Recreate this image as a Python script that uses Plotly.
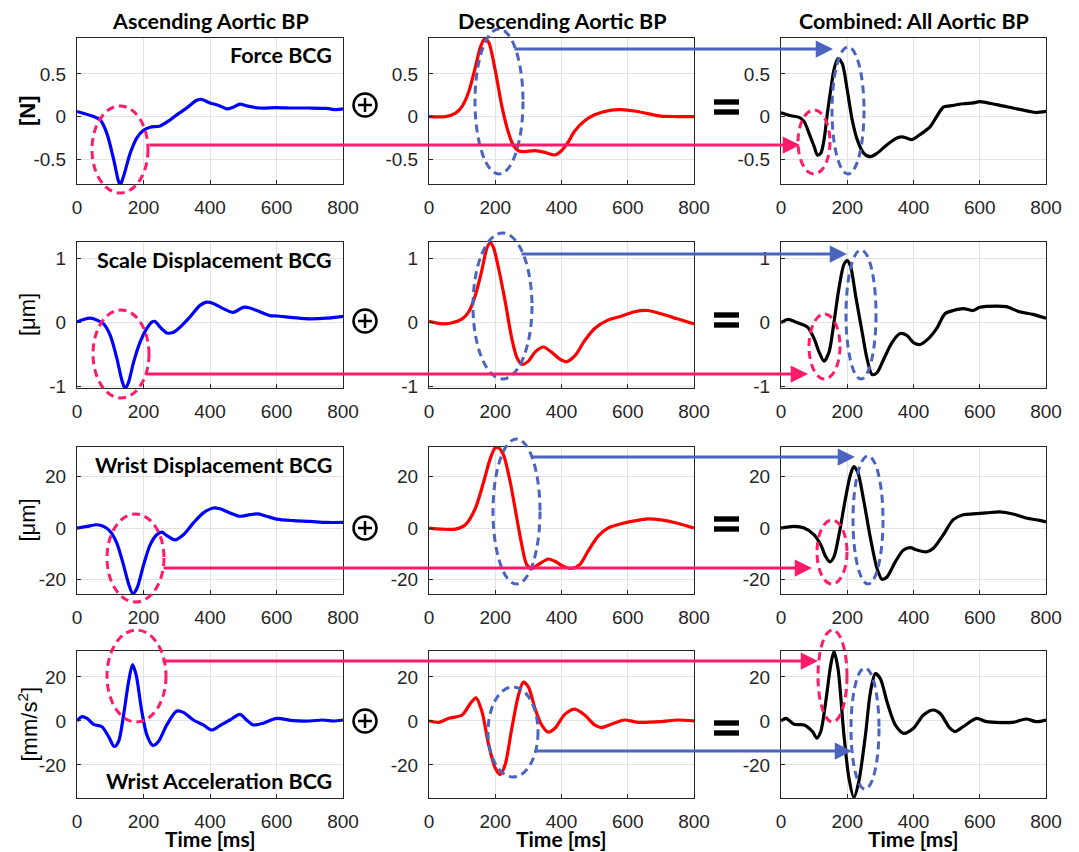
import plotly.graph_objects as go

# ---------------- data ----------------
asc_force_t = [0,50,70,90,110,125,130,140,160,180,200,220,250,280,300,330,360,375,400,430,450,470,490,510,550,600,650,700,750,780,800]
asc_force_v = [0.06,0.0,-0.04,-0.2,-0.5,-0.76,-0.8,-0.7,-0.43,-0.25,-0.16,-0.125,-0.11,-0.04,0.02,0.1,0.19,0.2,0.16,0.125,0.09,0.11,0.145,0.125,0.1,0.105,0.1,0.1,0.095,0.08,0.09]
desc_force_t = [0,50,80,100,120,140,155,168,180,200,220,240,255,270,290,320,350,380,400,420,440,470,500,550,580,620,660,700,750,800]
desc_force_v = [0,0,0.04,0.12,0.29,0.58,0.81,0.91,0.87,0.54,0.12,-0.19,-0.34,-0.4,-0.41,-0.4,-0.42,-0.45,-0.4,-0.3,-0.17,-0.05,0.02,0.075,0.08,0.065,0.035,0.005,0,0]
comb_force_t = [0,30,55,70,85,100,110,120,130,140,150,160,172,185,200,215,230,250,270,290,320,350,370,395,420,450,470,490,510,550,580,600,650,700,750,770,800]
comb_force_v = [0.045,0.01,-0.01,-0.06,-0.2,-0.35,-0.45,-0.43,-0.27,0.04,0.31,0.55,0.68,0.62,0.31,-0.04,-0.27,-0.43,-0.47,-0.43,-0.33,-0.25,-0.24,-0.27,-0.21,-0.12,0,0.11,0.125,0.15,0.16,0.175,0.14,0.1,0.06,0.047,0.06]

asc_scale_t = [0,20,40,60,80,100,120,135,145,155,170,190,210,225,235,250,270,290,310,340,370,390,410,440,470,500,520,550,580,600,650,700,750,800]
asc_scale_v = [0,0.04,0.06,0.03,-0.03,-0.21,-0.57,-0.91,-1.04,-0.94,-0.63,-0.31,-0.1,0,0.01,-0.08,-0.17,-0.16,-0.08,0.08,0.26,0.31,0.29,0.21,0.15,0.23,0.22,0.16,0.1,0.094,0.07,0.05,0.06,0.09]
desc_scale_t = [0,40,70,100,120,140,160,175,185,195,210,230,250,265,280,300,320,345,370,395,415,440,470,500,540,580,620,660,700,750,800]
desc_scale_v = [0.01,-0.03,-0.01,0.05,0.16,0.42,0.82,1.16,1.24,1.16,0.84,0.32,-0.26,-0.55,-0.66,-0.61,-0.47,-0.39,-0.47,-0.58,-0.62,-0.53,-0.29,-0.1,0.03,0.09,0.16,0.18,0.13,0.05,-0.03]
comb_scale_t = [0,20,40,60,80,100,115,130,145,160,175,190,200,210,225,245,260,275,290,310,335,360,380,400,420,445,470,495,520,550,580,600,650,680,720,760,800]
comb_scale_v = [-0.01,0.04,0.01,-0.03,-0.08,-0.26,-0.47,-0.61,-0.47,0,0.53,0.9,0.96,0.87,0.42,-0.16,-0.58,-0.82,-0.79,-0.58,-0.32,-0.18,-0.21,-0.32,-0.35,-0.26,-0.1,0.13,0.18,0.21,0.18,0.23,0.25,0.24,0.16,0.12,0.06]

asc_wdisp_t = [0,30,60,80,100,120,140,155,168,180,200,220,240,255,270,295,320,350,380,410,430,460,490,520,545,570,600,650,700,750,800]
asc_wdisp_v = [0,0.65,1.3,0.65,-1.3,-5.9,-14.4,-21.6,-25.5,-23.5,-14.4,-6.5,-2.6,-1.6,-2.9,-4.6,-2.6,2,5.9,7.8,7.5,5.9,4.6,5.2,5.5,4.6,3.5,2.9,2.6,2.2,2.2]
desc_wdisp_t = [0,40,80,110,140,165,185,200,210,225,245,265,280,295,310,330,360,380,405,430,455,480,510,540,580,620,660,700,750,800]
desc_wdisp_v = [0,-0.4,-0.4,1.3,7.7,18,27,31.2,31.2,28.4,18,3.9,-6.5,-14.2,-15.7,-14.2,-12,-12.9,-14.8,-15.7,-14.2,-9,-3.2,0,1.7,2.8,3.6,3.2,1.9,0]
comb_wdisp_t = [0,40,70,100,120,135,148,160,175,195,210,220,232,250,270,290,305,320,345,370,390,410,440,460,490,520,550,580,620,660,700,740,780,800]
comb_wdisp_v = [0,0.65,0,-2.6,-6.5,-11.1,-13.1,-11.1,-2.6,11.8,20.9,23.9,21.6,10.5,-3.9,-15.7,-19.9,-19,-13.1,-8.5,-7.6,-8.5,-9.2,-7.8,-2.6,3.3,5.2,5.5,5.9,6.3,5.5,3.9,3,2.4]

asc_wacc_t = [0,15,30,50,75,95,112,125,140,155,167,178,195,210,228,245,270,300,320,350,380,405,430,460,490,510,530,560,600,650,700,740,770,800]
asc_wacc_v = [0,2,1.2,-1.5,-2.6,-7.1,-11.6,-9.3,2.7,17.7,25.6,20.8,4.2,-6.3,-11.1,-9.3,-1.8,4.5,3.9,0.45,-1.8,-4.1,-2.1,0.45,3,0.45,-1.8,-1,1.2,0.15,0,0.45,0,0.45]
desc_wacc_t = [0,30,60,100,125,142,160,180,200,215,230,250,270,285,300,320,340,360,380,410,440,470,500,520,550,590,630,700,750,800]
desc_wacc_v = [0,-0.6,1.2,2.7,8,10.5,4.2,-10.8,-21.4,-24.4,-19.8,-3.3,11.7,17.7,15.5,5.7,-1.8,-5.1,-3.3,3,5.4,2.7,-1.8,-3,-1.5,0.45,-0.6,-0.3,0.45,0]
comb_wacc_t = [0,15,40,70,95,108,120,135,150,160,172,190,205,220,235,255,270,285,300,320,345,370,400,430,460,480,510,525,550,590,620,700,740,770,800]
comb_wacc_v = [0,1.2,-1.5,-1.8,-4.8,-7.8,-4.8,8.7,25.3,31.6,23.8,-6.3,-25.9,-34.8,-27.4,-6.3,13.2,21.5,19.2,8.7,-1.8,-5.6,-3.3,2.7,5,3.5,-3.3,-4.8,-2.6,1.2,-0.3,-0.6,0.9,-0.3,0.45]

col_titles = ["Ascending Aortic BP", "Descending Aortic BP", "Combined: All Aortic BP"]
row_labels = ["Force BCG", "Scale Displacement BCG", "Wrist Displacement BCG", "Wrist Acceleration BCG"]
y_titles = ["<b>[N]</b>", "[\u03bcm]", "[\u03bcm]", "[mm/s<sup>2</sup>]"]
x_ticks = [0, 200, 400, 600, 800]
x_ticktext = ["0", "200", "400", "600", "800"]
y_ticks = [[-0.5, 0, 0.5], [-1, 0, 1], [-20, 0, 20], [-20, 0, 20]]
y_ticktext = [["-0.5", "0", "0.5"], ["-1", "0", "1"], ["-20", "0", "20"], ["-20", "0", "20"]]
y_ranges = [[-0.79, 0.92], [-1.03, 1.25], [-25.6, 31.5], [-35, 31.8]]

series = [
    [(asc_force_t, asc_force_v), (desc_force_t, desc_force_v), (comb_force_t, comb_force_v)],
    [(asc_scale_t, asc_scale_v), (desc_scale_t, desc_scale_v), (comb_scale_t, comb_scale_v)],
    [(asc_wdisp_t, asc_wdisp_v), (desc_wdisp_t, desc_wdisp_v), (comb_wdisp_t, comb_wdisp_v)],
    [(asc_wacc_t, asc_wacc_v), (desc_wacc_t, desc_wacc_v), (comb_wacc_t, comb_wacc_v)],
]
line_colors = ["#0000ff", "#ff0000", "#000000"]

# ---------------- layout geometry (pixels) ----------------
W, H = 1079, 852
L, R, T, B = 77, 1046, 38, 798
PW, PH = R - L, B - T
col_px = [(77, 343), (429, 694), (781, 1046)]
row_px = [(38, 184), (242, 388), (447, 594), (651, 798)]

def fx(px):
    return (px - L) / PW

def fy(py):
    return (B - py) / PH

PINK = "#ff1a6c"
BLUE = "#4a64c0"
AX = "#262626"
TICKFONT = dict(family="Liberation Sans, Arial", size=19, color=AX)
BOLD = "Lato, Carlito, Calibri, sans-serif"

fig = go.Figure()
layout = dict(width=W, height=H, paper_bgcolor="white", plot_bgcolor="white",
              margin=dict(l=L, r=W - R, t=T, b=H - B), showlegend=False)

for r in range(4):
    for c in range(3):
        k = r * 3 + c + 1
        sfx = "" if k == 1 else str(k)
        t, v = series[r][c]
        fig.add_trace(go.Scatter(x=t, y=v, mode="lines",
                                 line=dict(color=line_colors[c], width=3.2, shape="spline", smoothing=0.8),
                                 xaxis="x" + sfx, yaxis="y" + sfx, hoverinfo="skip"))
        axcommon = dict(showline=True, mirror=True, linecolor=AX, linewidth=1,
                        showgrid=True, gridcolor="#e3e3e3", gridwidth=1, zeroline=False,
                        ticks="inside", ticklen=4, tickcolor=AX, tickfont=TICKFONT)
        layout["xaxis" + sfx] = dict(axcommon, domain=[fx(col_px[c][0]), fx(col_px[c][1])],
                                     range=[0, 800], tickvals=x_ticks, ticktext=x_ticktext,
                                     anchor="y" + sfx, ticklabelstandoff=6)
        layout["yaxis" + sfx] = dict(axcommon, domain=[fy(row_px[r][1]), fy(row_px[r][0])],
                                     range=y_ranges[r], tickvals=y_ticks[r], ticktext=y_ticktext[r],
                                     anchor="x" + sfx, ticklabelstandoff=6)

fig.update_layout(**layout)

ann = []
shapes = []

# column titles
for c, title in enumerate(col_titles):
    ann.append(dict(text="<b>%s</b>" % title, x=fx((col_px[c][0] + col_px[c][1]) / 2), y=fy(21),
                    xref="paper", yref="paper", showarrow=False, xanchor="center", yanchor="middle",
                    font=dict(family=BOLD, size=21.5, color="black")))

# row labels inside first column
row_label_y = [55, 260, 465, 781]
for r, lab in enumerate(row_labels):
    ann.append(dict(text="<b>%s</b>" % lab, x=fx(334), y=fy(row_label_y[r]), xref="paper", yref="paper",
                    showarrow=False, xanchor="right", yanchor="middle",
                    font=dict(family=BOLD, size=21.5, color="black")))

# y axis titles
for r, yt in enumerate(y_titles):
    ymid = (row_px[r][0] + row_px[r][1]) / 2
    ann.append(dict(text=yt, x=fx(27), y=fy(ymid), xref="paper", yref="paper", showarrow=False,
                    textangle=-90, xanchor="center", yanchor="middle",
                    font=dict(family="Liberation Sans, Arial", size=22, color="black")))

# x axis titles bottom row
for c in range(3):
    ann.append(dict(text="<b>Time [ms]</b>", x=fx((col_px[c][0] + col_px[c][1]) / 2), y=fy(838),
                    xref="paper", yref="paper", showarrow=False, xanchor="center", yanchor="middle",
                    font=dict(family=BOLD, size=21, color="black")))

# plus-circle and equals symbols
plus_cy = [105, 321, 528, 721]
eq_cy = [107, 320, 524, 728]
for r in range(4):
    cx, cy, rad = 365, plus_cy[r], 11.5
    shapes.append(dict(type="circle", xref="paper", yref="paper",
                       x0=fx(cx - rad), x1=fx(cx + rad), y0=fy(cy + rad), y1=fy(cy - rad),
                       line=dict(color="black", width=2.5)))
    shapes.append(dict(type="line", xref="paper", yref="paper", x0=fx(cx - 7), x1=fx(cx + 7),
                       y0=fy(cy), y1=fy(cy), line=dict(color="black", width=2.5)))
    shapes.append(dict(type="line", xref="paper", yref="paper", x0=fx(cx), x1=fx(cx),
                       y0=fy(cy - 7), y1=fy(cy + 7), line=dict(color="black", width=2.5)))
    ey = eq_cy[r]
    for dy in (-5, 5):
        shapes.append(dict(type="rect", xref="paper", yref="paper", x0=fx(714), x1=fx(739),
                           y0=fy(ey + dy + 2.7), y1=fy(ey + dy - 2.7),
                           fillcolor="black", line=dict(width=0)))

# dashed ellipses (pixel boxes: x0, x1, y0, y1, colour)
ellipses = [
    (92, 148, 106, 193, PINK), (475, 523, 29, 174, BLUE), (798, 830, 110, 174, PINK), (832, 864, 47, 174, BLUE),
    (93, 149, 310, 398, PINK), (473, 532, 233, 379, BLUE), (809, 840, 314, 379, PINK), (846, 876, 250, 379, BLUE),
    (107, 164, 514, 602, PINK), (493, 540, 439, 584, BLUE), (817, 847, 520, 584, PINK), (853, 883, 456, 584, BLUE),
    (107, 166, 630, 722, PINK), (488, 538, 687, 777, BLUE), (818, 847, 630, 722, PINK), (851, 879, 668, 789, BLUE),
]
for x0, x1, y0, y1, col in ellipses:
    shapes.append(dict(type="circle", xref="paper", yref="paper", x0=fx(x0), x1=fx(x1),
                       y0=fy(y1), y1=fy(y0), line=dict(color=col, width=3, dash="8px,5px")))

# arrows (tail_x, head_x, y, colour)
arrows = [
    (148, 800, 145, PINK), (513, 833, 49, BLUE),
    (144, 808, 374, PINK), (520, 847, 254, BLUE),
    (162, 812, 568, PINK), (530, 855, 457, BLUE),
    (161, 818, 661, PINK), (535, 852, 751, BLUE),
]
for x_tail, x_head, y, col in arrows:
    ann.append(dict(text="", x=fx(x_head), y=fy(y), xref="paper", yref="paper",
                    ax=x_tail - x_head, ay=0, axref="pixel", ayref="pixel",
                    showarrow=True, arrowhead=2, arrowsize=1.15, arrowwidth=3, arrowcolor=col,
                    standoff=0, startstandoff=0))

fig.update_layout(annotations=ann, shapes=shapes)
fig.write_html("out.html", config={"displayModeBar": False},
               post_script="document.body.style.margin='0';document.body.style.overflow='hidden';")
